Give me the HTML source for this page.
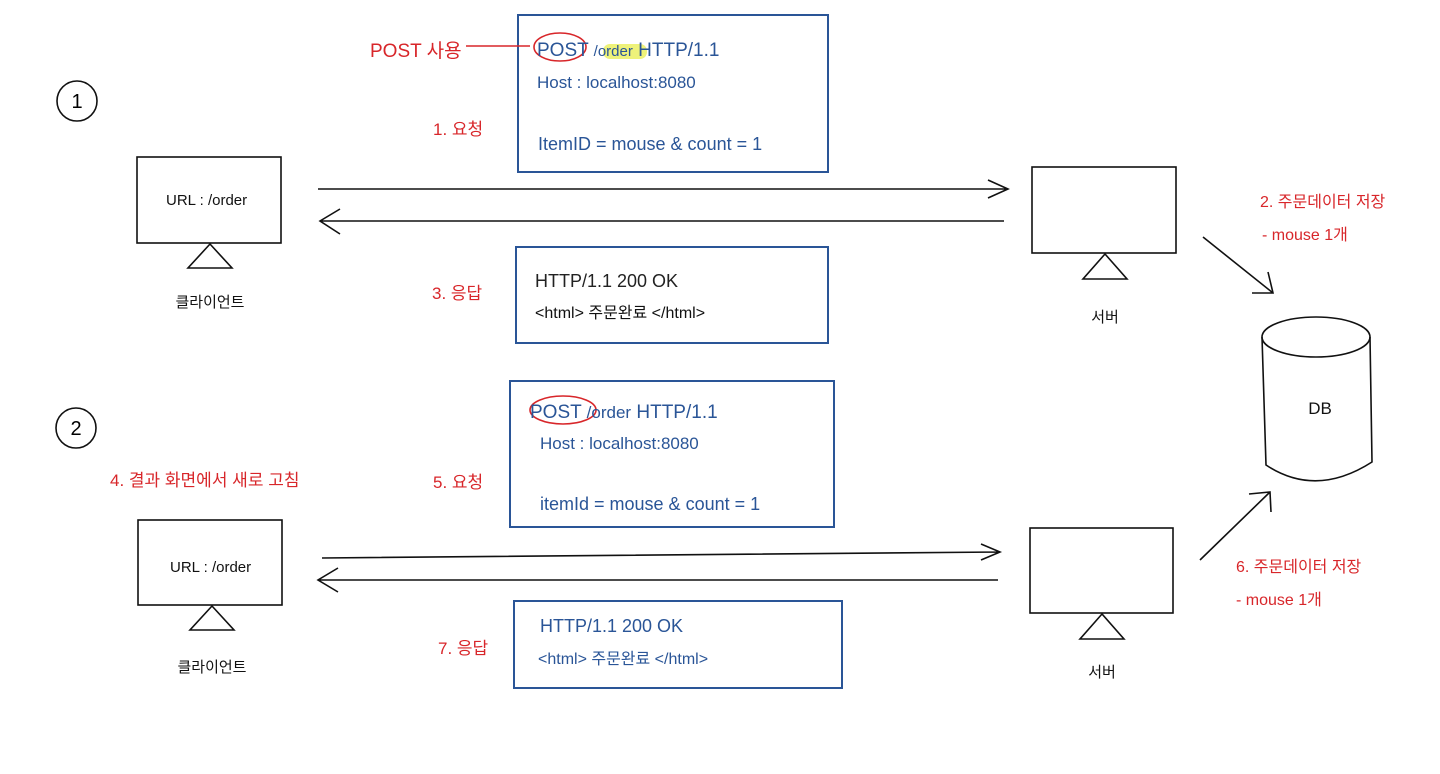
<!DOCTYPE html>
<html><head><meta charset="utf-8"><style>
body{margin:0;background:#fff}
svg{display:block}
text{font-family:"Liberation Sans","Noto Sans CJK KR",sans-serif}
.b{fill:#2a5597;font-size:19px}
.r{fill:#d8262a;font-size:17px}
.k{fill:#111;font-size:15px}
</style></head><body>
<svg width="1440" height="774" viewBox="0 0 1440 774" xmlns="http://www.w3.org/2000/svg">
<g fill="none" stroke="#111" stroke-width="1.6">
<circle cx="77" cy="101" r="20"/><circle cx="76" cy="428" r="20"/>
<rect x="137" y="157" width="144" height="86"/>
<path d="M210 244 L188 268 L232 268 Z"/>
<rect x="138" y="520" width="144" height="85"/>
<path d="M212 606 L190 630 L234 630 Z"/>
<rect x="1032" y="167" width="144" height="86"/>
<path d="M1105 254 L1083 279 L1127 279 Z"/>
<rect x="1030" y="528" width="143" height="85"/>
<path d="M1102 614 L1080 639 L1124 639 Z"/>
<path d="M318 189 L1008 189 M988 180 L1008 189 L988 198"/>
<path d="M1004 221 L320 221 M340 209 L320 221 L340 234"/>
<path d="M322 558 L1000 552 M981 544 L1000 552 L981 560"/>
<path d="M998 580 L318 580 M338 568 L318 580 L338 592"/>
<path d="M1203 237 L1273 293 M1252 293 L1273 293 L1268 272"/>
<path d="M1200 560 L1270 492 M1249 494 L1270 492 L1271 512"/>
<ellipse cx="1316" cy="337" rx="54" ry="20"/>
<path d="M1262 337 L1266 465 Q1316 498 1372 462 L1370 337"/>
</g>
<g fill="none" stroke="#2a5597" stroke-width="2">
<rect x="518" y="15" width="310" height="157"/>
<rect x="516" y="247" width="312" height="96"/>
<rect x="510" y="381" width="324" height="146"/>
<rect x="514" y="601" width="328" height="87"/>
</g>
<rect x="603" y="44" width="44" height="15" rx="7" fill="#eef27a"/>
<g fill="none" stroke="#d8262a" stroke-width="1.6">
<ellipse cx="560" cy="47" rx="26" ry="14"/>
<ellipse cx="563" cy="410" rx="33" ry="14"/>
<path d="M466 46 L530 46"/>
</g>
<text x="77" y="108" text-anchor="middle" style="font-size:20px">1</text>
<text x="76" y="435" text-anchor="middle" style="font-size:20px">2</text>
<text class="k" x="166" y="205">URL : /order</text>
<text class="k" x="170" y="572">URL : /order</text>
<text class="k" x="210" y="307" text-anchor="middle">클라이언트</text>
<text class="k" x="212" y="672" text-anchor="middle">클라이언트</text>
<text class="k" x="1105" y="322" text-anchor="middle">서버</text>
<text class="k" x="1102" y="677" text-anchor="middle">서버</text>
<text class="k" x="1320" y="414" text-anchor="middle" style="font-size:17px">DB</text>
<text class="b" x="537" y="56">POST <tspan font-size="15">/order</tspan> HTTP/1.1</text>
<text class="b" x="537" y="88" style="font-size:17px">Host : localhost:8080</text>
<text class="b" x="538" y="150" style="font-size:18px">ItemID = mouse &amp; count = 1</text>
<text class="b" x="535" y="287" style="font-size:18px;fill:#222">HTTP/1.1 200 OK</text>
<text class="k" x="535" y="318" style="font-size:16px">&lt;html&gt; 주문완료 &lt;/html&gt;</text>
<text class="b" x="530" y="418">POST <tspan font-size="17">/order</tspan> HTTP/1.1</text>
<text class="b" x="540" y="449" style="font-size:17px">Host : localhost:8080</text>
<text class="b" x="540" y="510" style="font-size:18px">itemId = mouse &amp; count = 1</text>
<text class="b" x="540" y="632" style="font-size:18px">HTTP/1.1 200 OK</text>
<text class="b" x="538" y="664" style="font-size:16px">&lt;html&gt; 주문완료 &lt;/html&gt;</text>
<text class="r" x="370" y="57" style="font-size:19px">POST 사용</text>
<text class="r" x="433" y="135">1. 요청</text>
<text class="r" x="432" y="299">3. 응답</text>
<text class="r" x="110" y="486">4. 결과 화면에서 새로 고침</text>
<text class="r" x="433" y="488">5. 요청</text>
<text class="r" x="438" y="654">7. 응답</text>
<text class="r" x="1260" y="207" style="font-size:16px">2. 주문데이터 저장</text>
<text class="r" x="1262" y="240" style="font-size:16px">- mouse 1개</text>
<text class="r" x="1236" y="572" style="font-size:16px">6. 주문데이터 저장</text>
<text class="r" x="1236" y="605" style="font-size:16px">- mouse 1개</text>
</svg>
</body></html>
